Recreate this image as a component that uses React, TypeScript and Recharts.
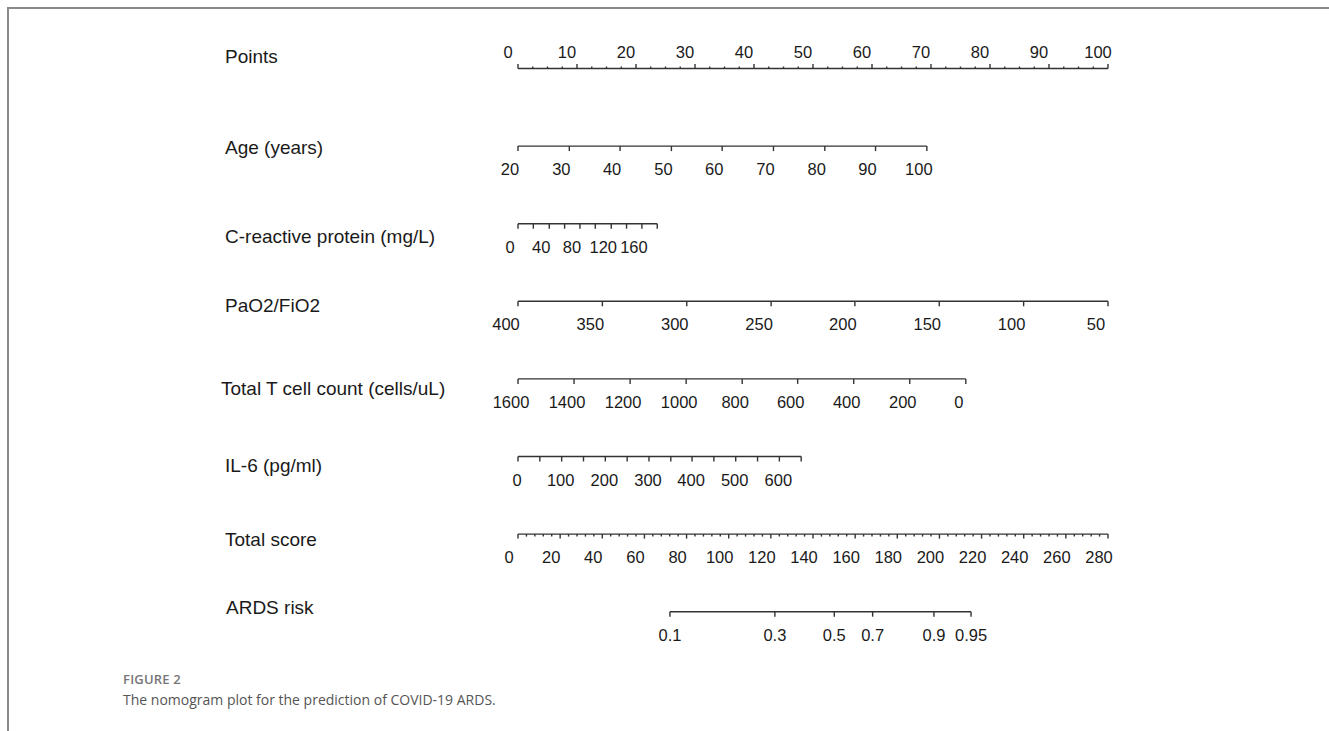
import React from 'react';
import { ComposedChart, Scatter, XAxis, YAxis } from 'recharts';

// ---------- data ----------
const rowLabels = [
  'Points',
  'Age (years)',
  'C-reactive protein (mg/L)',
  'PaO2/FiO2',
  'Total T cell count (cells/uL)',
  'IL-6 (pg/ml)',
  'Total score',
  'ARDS risk',
];

const pointsMajor = [0, 10, 20, 30, 40, 50, 60, 70, 80, 90, 100];
const pointsMinor = [
  2.5, 5, 7.5, 12.5, 15, 17.5, 22.5, 25, 27.5, 32.5, 35, 37.5, 42.5, 45, 47.5,
  52.5, 55, 57.5, 62.5, 65, 67.5, 72.5, 75, 77.5, 82.5, 85, 87.5, 92.5, 95, 97.5,
];

const ageValues = [20, 30, 40, 50, 60, 70, 80, 90, 100];
const agePoints = [0, 8.7, 17.3, 26.0, 34.6, 43.3, 52.0, 60.6, 69.3];

const crpValues = [0, 20, 40, 60, 80, 100, 120, 140, 160, 180];
const crpPoints = [0, 2.6, 5.3, 7.9, 10.5, 13.1, 15.8, 18.4, 21.0, 23.6];
const crpLabelled = [0, 40, 80, 120, 160];

const pfValues = [400, 350, 300, 250, 200, 150, 100, 50];
const pfPoints = [0, 14.3, 28.6, 42.9, 57.1, 71.4, 85.7, 100];

const tcellValues = [1600, 1400, 1200, 1000, 800, 600, 400, 200, 0];
const tcellPoints = [0, 9.5, 19.0, 28.5, 38.0, 47.4, 56.9, 66.4, 75.9];

const il6Values = [0, 50, 100, 150, 200, 250, 300, 350, 400, 450, 500, 550, 600, 650];
const il6Points = [0, 3.7, 7.4, 11.1, 14.8, 18.5, 22.2, 25.9, 29.5, 33.2, 36.9, 40.6, 44.3, 48.0];
const il6Labelled = [0, 100, 200, 300, 400, 500, 600];

const totalMajor = [0, 20, 40, 60, 80, 100, 120, 140, 160, 180, 200, 220, 240, 260, 280];
const totalMinor = [
  4, 8, 12, 16, 24, 28, 32, 36, 44, 48, 52, 56, 64, 68, 72, 76, 84, 88, 92, 96,
  104, 108, 112, 116, 124, 128, 132, 136, 144, 148, 152, 156, 164, 168, 172, 176,
  184, 188, 192, 196, 204, 208, 212, 216, 224, 228, 232, 236, 244, 248, 252, 256,
  264, 268, 272, 276,
];

const riskValues = ['0.1', '0.3', '0.5', '0.7', '0.9', '0.95'];
const riskTotals = [72.1, 121.9, 150.1, 168.3, 197.4, 215.0];

// ---------- styling ----------
const AXIS = '#333333';
const TEXT = '#1a1a1a';
const FONT = '"Liberation Sans", Arial, Helvetica, sans-serif';
const W = 1329;
const H = 731;
const rowLabelX = [225, 225, 225, 225, 221, 225, 225, 226];
const rowLabelDy = [-12.5, 1, 13, 4.5, 10, 8.5, 5, -4.7];
const labelDx = [-10, -8, -8, -12, -7, -1, -9, 0];

type Tick = { x: number; y: number; label: string; major: boolean };

const sortTicks = (t: Tick[]) => t.slice().sort((a, b) => a.x - b.x);

const pointsData: Tick[] = sortTicks([
  ...pointsMajor.map((v) => ({ x: v, y: 0, label: String(v), major: true })),
  ...pointsMinor.map((v) => ({ x: v, y: 0, label: '', major: false })),
]);
const ageData: Tick[] = ageValues.map((v, i) => ({ x: agePoints[i], y: 1, label: String(v), major: true }));
const crpData: Tick[] = crpValues.map((v, i) => ({
  x: crpPoints[i], y: 2, label: crpLabelled.includes(v) ? String(v) : '', major: true,
}));
const pfData: Tick[] = pfValues.map((v, i) => ({ x: pfPoints[i], y: 3, label: String(v), major: true }));
const tcellData: Tick[] = tcellValues.map((v, i) => ({ x: tcellPoints[i], y: 4, label: String(v), major: true }));
const il6Data: Tick[] = il6Values.map((v, i) => ({
  x: il6Points[i], y: 5, label: il6Labelled.includes(v) ? String(v) : '', major: true,
}));
const totalData: Tick[] = sortTicks([
  ...totalMajor.map((v) => ({ x: v, y: 6, label: String(v), major: true })),
  ...totalMinor.map((v) => ({ x: v, y: 6, label: '', major: false })),
]);
const riskData: Tick[] = riskValues.map((v, i) => ({ x: riskTotals[i], y: 7, label: v, major: true }));

const makeTick = (row: number, up: boolean, majorLen: number, minorLen: number) => (props: any) => {
  const { cx, cy, payload } = props;
  if (cx == null || cy == null) return <g />;
  const len = payload.major ? majorLen : minorLen;
  const dir = up ? -1 : 1;
  return (
    <g>
      <line x1={cx} x2={cx} y1={cy} y2={cy + dir * len} stroke={AXIS} strokeWidth={1.4} />
      {payload.label !== '' && (
        <text
          x={cx + labelDx[row]}
          y={up ? cy - 17 : cy + 23}
          textAnchor="middle"
          dominantBaseline="central"
          fontSize={16.5}
          fontFamily={FONT}
          fill={TEXT}
        >
          {payload.label}
        </text>
      )}
    </g>
  );
};

const RowLabel = (props: any) => {
  const { y, payload } = props;
  const i = payload.value as number;
  return (
    <text
      x={rowLabelX[i]}
      y={y + rowLabelDy[i]}
      dominantBaseline="central"
      textAnchor="start"
      fontSize={19}
      fontFamily={FONT}
      fill={TEXT}
    >
      {rowLabels[i]}
    </text>
  );
};

const lineStyle = { stroke: AXIS, strokeWidth: 1.4 };

export default function App() {
  const series: { data: Tick[]; axis: string; up: boolean; maj: number; min: number }[] = [
    { data: pointsData, axis: 'pts', up: true, maj: 4.5, min: 2 },
    { data: ageData, axis: 'pts', up: false, maj: 5, min: 5 },
    { data: crpData, axis: 'pts', up: false, maj: 5, min: 5 },
    { data: pfData, axis: 'pts', up: false, maj: 5, min: 5 },
    { data: tcellData, axis: 'pts', up: false, maj: 5, min: 5 },
    { data: il6Data, axis: 'pts', up: false, maj: 5, min: 5 },
    { data: totalData, axis: 'tot', up: false, maj: 4.5, min: 2.5 },
    { data: riskData, axis: 'tot', up: false, maj: 5, min: 5 },
  ];
  return (
    <div style={{ position: 'absolute', left: 0, top: 0, width: W, height: H, background: '#fff', overflow: 'hidden' }}>
      <div
        style={{
          position: 'absolute',
          left: 7,
          top: 7,
          width: W,
          height: H,
          borderTop: '2px solid #8a8a8a',
          borderLeft: '2px solid #8a8a8a',
          boxSizing: 'border-box',
        }}
      />
      <div style={{ position: 'absolute', left: 0, top: 0 }}>
        <ComposedChart
          width={W}
          height={H}
          margin={{ top: 68.5, right: 221, bottom: 119.3, left: 218 }}
        >
          <XAxis xAxisId="pts" type="number" dataKey="x" domain={[0, 100]} hide />
          <XAxis xAxisId="tot" type="number" dataKey="x" domain={[0, 280]} hide />
          <YAxis
            type="number"
            dataKey="y"
            domain={[0, 7]}
            reversed
            ticks={[0, 1, 2, 3, 4, 5, 6, 7]}
            interval={0}
            tick={<RowLabel />}
            axisLine={false}
            tickLine={false}
            width={300}
          />
          {series.map((s, i) => (
            <Scatter
              key={i}
              data={s.data}
              xAxisId={s.axis}
              line={lineStyle}
              lineJointType="linear"
              shape={makeTick(i, s.up, s.maj, s.min)}
              isAnimationActive={false}
            />
          ))}
        </ComposedChart>
      </div>
      <div
        style={{
          position: 'absolute',
          left: 123,
          top: 670,
          fontFamily: '"Open Sans", sans-serif',
          fontSize: 13,
          fontWeight: 600,
          color: '#767676',
          letterSpacing: 0.2,
        }}
      >
        FIGURE 2
      </div>
      <div
        style={{
          position: 'absolute',
          left: 123,
          top: 690,
          fontFamily: '"Open Sans", sans-serif',
          fontSize: 14,
          color: '#555',
        }}
      >
        The nomogram plot for the prediction of COVID-19 ARDS.
      </div>
    </div>
  );
}
